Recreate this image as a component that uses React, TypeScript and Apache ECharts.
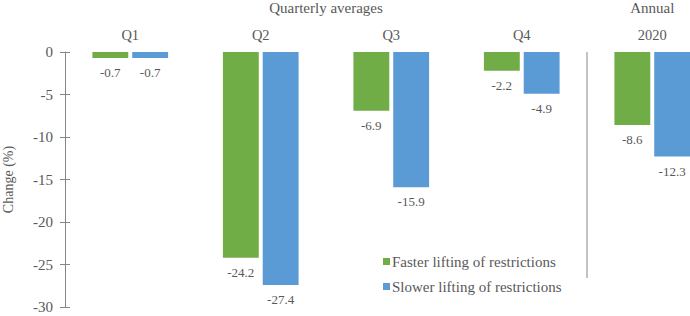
import React, { useEffect, useRef } from "react";
import * as echarts from "echarts";

const categories = ["Q1", "Q2", "Q3", "Q4", "2020"];
const fasterValues = [-0.7, -24.2, -6.9, -2.2, -8.6];
const slowerValues = [-0.7, -27.4, -15.9, -4.9, -12.3];
const seriesNames = ["Faster lifting of restrictions", "Slower lifting of restrictions"];
const groupLabels = ["Quarterly averages", "Annual"];
const yTitle = "Change (%)";

const FONT = "Liberation Serif";
const TEXT = "#595959";
const AXIS = "#868686";

export default function App() {
  const ref = useRef<HTMLDivElement>(null);
  useEffect(() => {
    if (!ref.current) return;
    const chart = echarts.init(ref.current, undefined, { renderer: "svg" });
    const label = {
      show: true,
      position: "bottom",
      distance: 8,
      color: TEXT,
      fontFamily: FONT,
      fontSize: 13,
      formatter: (p: any) => p.value.toFixed(1),
    };
    chart.setOption({
      animation: false,
      textStyle: { fontFamily: FONT },
      grid: { left: 65, right: 2.5, top: 52, bottom: 9, containLabel: false, outerBoundsMode: "none" },
      legend: {
        orient: "vertical",
        left: 378,
        top: 249,
        itemWidth: 7,
        itemHeight: 7,
        itemGap: 10,
        icon: "rect",
        textStyle: { color: TEXT, fontFamily: FONT, fontSize: 15, padding: [0, 0, 0, -3] },
        data: seriesNames,
      },
      xAxis: {
        type: "category",
        data: categories,
        position: "top",
        axisLine: { show: false },
        axisTick: { show: false },
        axisLabel: { color: TEXT, fontFamily: FONT, fontSize: 14.5, margin: 10 },
      },
      yAxis: [
        {
          type: "value",
          min: -30,
          max: 0,
          interval: 5,
          name: yTitle,
          nameLocation: "middle",
          nameGap: 50,
          nameTextStyle: { color: TEXT, fontFamily: FONT, fontSize: 14 },
          axisLine: { show: true, lineStyle: { color: AXIS } },
          axisTick: { show: true, length: 5, lineStyle: { color: AXIS } },
          axisLabel: { color: TEXT, fontFamily: FONT, fontSize: 15, margin: 12 },
          splitLine: { show: false },
        },
        {
          type: "value",
          min: -30,
          max: 0,
          interval: 5,
          position: "left",
          axisLine: { show: false },
          axisTick: { show: true, inside: true, length: 5, lineStyle: { color: AXIS } },
          axisLabel: { show: false },
          splitLine: { show: false },
        },
      ],
      series: [
        {
          name: seriesNames[0],
          type: "bar",
          data: fasterValues,
          itemStyle: { color: "#70AD47" },
          barGap: "11%",
          barCategoryGap: "42%",
          label,
        },
        {
          name: seriesNames[1],
          type: "bar",
          data: slowerValues,
          itemStyle: { color: "#5B9BD5" },
          barGap: "11%",
          barCategoryGap: "42%",
          label,
        },
      ],
    });
    const sepX = (chart.convertToPixel({ xAxisIndex: 0 }, 3) + chart.convertToPixel({ xAxisIndex: 0 }, 4)) / 2;
    const midQ = (chart.convertToPixel({ xAxisIndex: 0 }, 1) + chart.convertToPixel({ xAxisIndex: 0 }, 2)) / 2;
    const annX = chart.convertToPixel({ xAxisIndex: 0 }, 4);
    chart.setOption({
      graphic: [
        {
          type: "line",
          shape: { x1: sepX, y1: 52, x2: sepX, y2: 278 },
          style: { stroke: AXIS, lineWidth: 1 },
        },
        {
          type: "text",
          x: midQ,
          y: 8,
          style: { text: groupLabels[0], fill: TEXT, fontFamily: FONT, fontSize: 15, textAlign: "center", textVerticalAlign: "middle" },
        },
        {
          type: "text",
          x: annX,
          y: 8,
          style: { text: groupLabels[1], fill: TEXT, fontFamily: FONT, fontSize: 15, textAlign: "center", textVerticalAlign: "middle" },
        },
      ],
    });
    return () => chart.dispose();
  }, []);
  return (
    <div style={{ position: "absolute", left: 0, top: 0, width: 690, height: 316, overflow: "hidden" }}>
      <div ref={ref} style={{ width: 720, height: 316 }} />
    </div>
  );
}
